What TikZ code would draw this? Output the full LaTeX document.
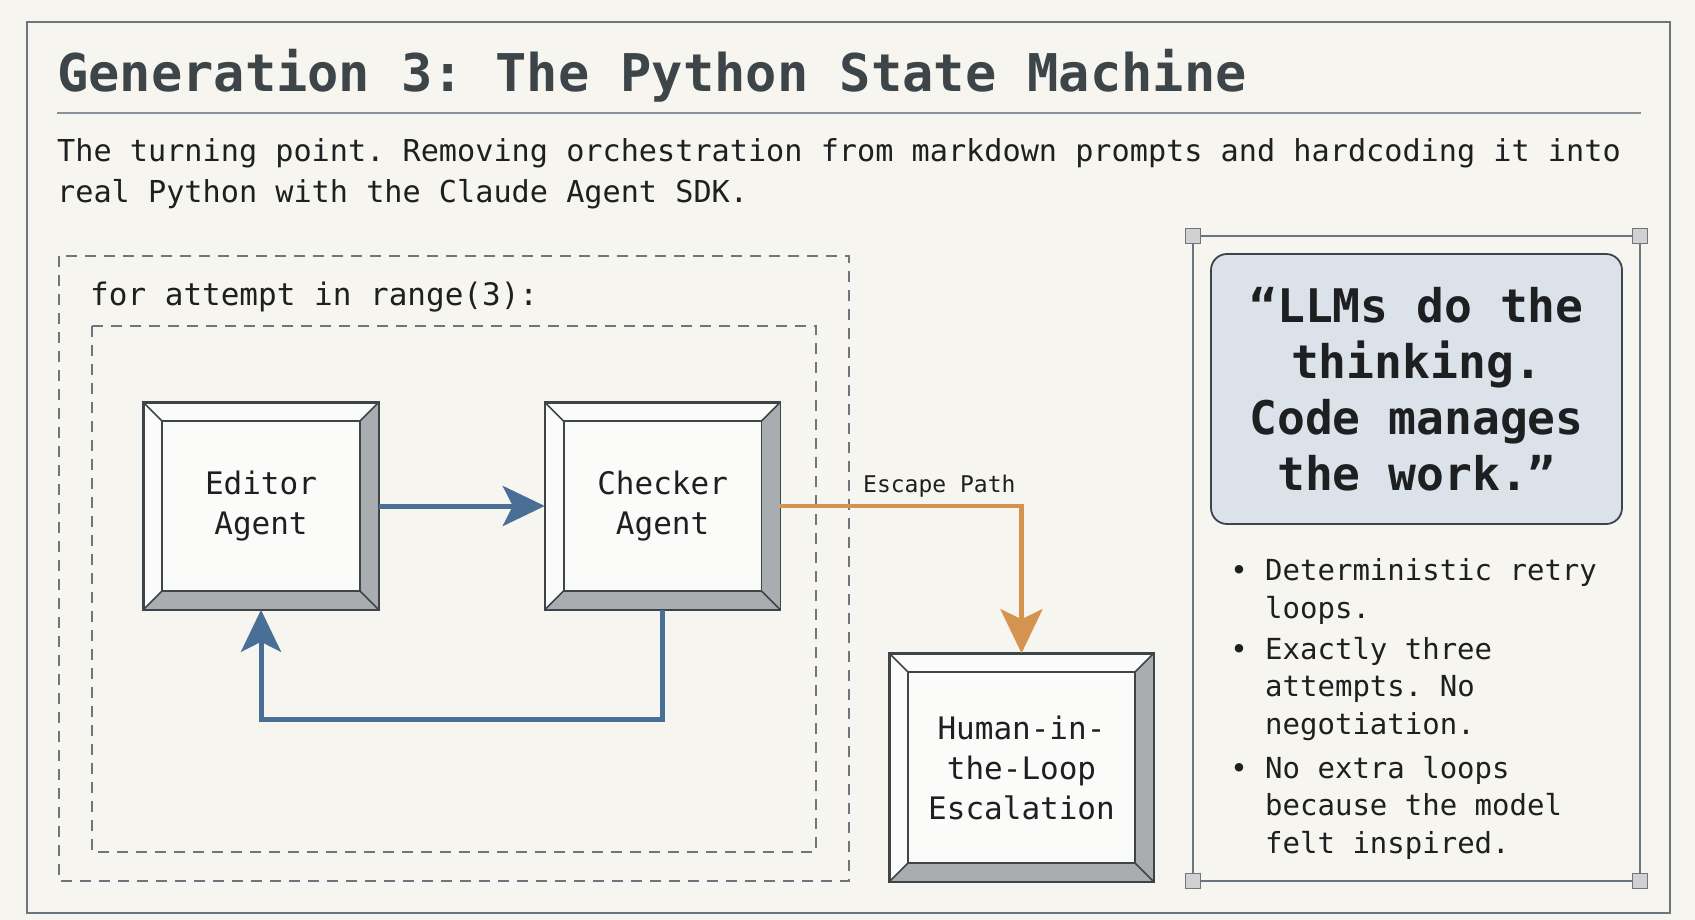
\documentclass[tikz,border=0pt]{standalone}
\usepackage{fontspec}
\setmonofont{DejaVu Sans Mono}
\usetikzlibrary{arrows.meta, positioning}

\definecolor{paper}{HTML}{F6F5F0}
\definecolor{ink}{HTML}{1E1F20}
\definecolor{slate}{HTML}{3D4549}
\definecolor{edge}{HTML}{6B767E}
\definecolor{steel}{HTML}{4A6F96}
\definecolor{amber}{HTML}{D49450}
\definecolor{shade}{HTML}{A9ADB0}
\definecolor{mist}{HTML}{DCE2E9}

\begin{document}
\begin{tikzpicture}[x=1pt, y=-1pt,
  heading/.style={anchor=base west, inner sep=0pt, text=slate,
                  font=\ttfamily\bfseries\fontsize{52}{60}\selectfont},
  body/.style={anchor=base west, inner sep=0pt, text=ink, align=left,
               font=\ttfamily\fontsize{30.2}{41}\selectfont},
  agent/.style={rectangle, draw=slate, line width=1.6pt, fill=white!60!paper,
                minimum width=234pt, minimum height=206pt, align=center,
                text=ink, font=\ttfamily\fontsize{31}{40}\selectfont},
  bevel/.style={fill=shade},
  rim/.style={draw=slate, line width=1.6pt},
  loopbox/.style={draw=edge, line width=2pt, dash pattern=on 11pt off 8pt},
  flow/.style={-{Stealth[length=42pt, width=40pt, inset=10pt]}, line width=5pt, steel},
  escape/.style={-{Stealth[length=44pt, width=42pt, inset=10pt]}, line width=4.5pt, amber},
  tag/.style={anchor=base west, inner sep=0pt, text=ink,
              font=\ttfamily\fontsize{23}{28}\selectfont},
  panel/.style={draw=edge, line width=2pt},
  handle/.style={draw=edge, line width=1.2pt, fill=shade!50!paper},
  quote/.style={rectangle, rounded corners=16pt, draw=slate, line width=1.8pt,
                fill=mist, minimum width=411pt, minimum height=270pt, align=center,
                text=ink, font=\ttfamily\bfseries\fontsize{46.3}{56}\selectfont},
  bullets/.style={anchor=base west, inner sep=0pt, align=left, text=ink,
                  font=\ttfamily\fontsize{29}{37.5}\selectfont}
]

\fill[paper] (0,0) rectangle (1695,920);
\useasboundingbox (0,0) rectangle (1695,920);
\draw[edge, line width=2.5pt] (27,22) rectangle (1670,913);

% header
\node[heading] (title) at (57,92) {Generation 3: The Python State Machine};
\draw[edge!80, line width=1.5pt] (57,113) -- (1641,113);
\node[body] (intro) at (57,203)
  {The turning point. Removing orchestration from markdown prompts and hardcoding it into\\
   real Python with the Claude Agent SDK.};

% retry loop
\draw[loopbox] (59,256) rectangle (849,881);
\draw[loopbox] (92,326) rectangle (816,852);
\node[body, font=\ttfamily\fontsize{31}{40}\selectfont] (loop) at (90,305) {for attempt in range(3):};

\node[agent] (editor) at (261,506) {Editor\\Agent};
\node[agent, right=166pt of editor] (checker) {Checker\\Agent};
\node[agent, minimum width=263pt, minimum height=227pt] (human) at (1021.5,767.5)
  {Human-in-\\the-Loop\\Escalation};

\foreach \b in {editor, checker, human} {
  \fill[bevel] (\b.north east) -- (\b.south east) -- (\b.south west)
    -- ([shift={(19pt,19pt)}]\b.south west) -- ([shift={(-19pt,19pt)}]\b.south east)
    -- ([shift={(-19pt,-19pt)}]\b.north east) -- cycle;
  \draw[rim] ([shift={(19pt,-19pt)}]\b.north west) rectangle ([shift={(-19pt,19pt)}]\b.south east);
  \draw[rim] (\b.north west) -- ++(19pt,-19pt)  (\b.north east) -- ++(-19pt,-19pt)
             (\b.south west) -- ++(19pt,19pt)   (\b.south east) -- ++(-19pt,19pt);
  \draw[rim] (\b.north west) rectangle (\b.south east);
}

\draw[flow] (editor) -- (checker);
\draw[flow] (checker.south) -- ++(0,110) -| (editor.south);
\draw[escape] (checker.east) -| (human.north);
\node[tag] (esc) at (863,492) {Escape Path};

% side panel
\draw[panel] (1193,236) rectangle (1640,881);
\foreach \c in {(1193,236),(1640,236),(1193,881),(1640,881)}
  \draw[handle] \c ++(-7.5pt,-7.5pt) rectangle ++(15pt,15pt);

\node[quote] (motto) at (1416.5,389)
  {“LLMs do the\\thinking.\\Code manages\\the work.”};

\node[bullets] (item1) at (1265,618) {\llap{• }Deterministic retry\\loops.};
\node[bullets] (item2) at (1265,734) {\llap{• }Exactly three\\attempts. No\\negotiation.};
\node[bullets] (item3) at (1265,853) {\llap{• }No extra loops\\because the model\\felt inspired.};

\end{tikzpicture}
\end{document}
